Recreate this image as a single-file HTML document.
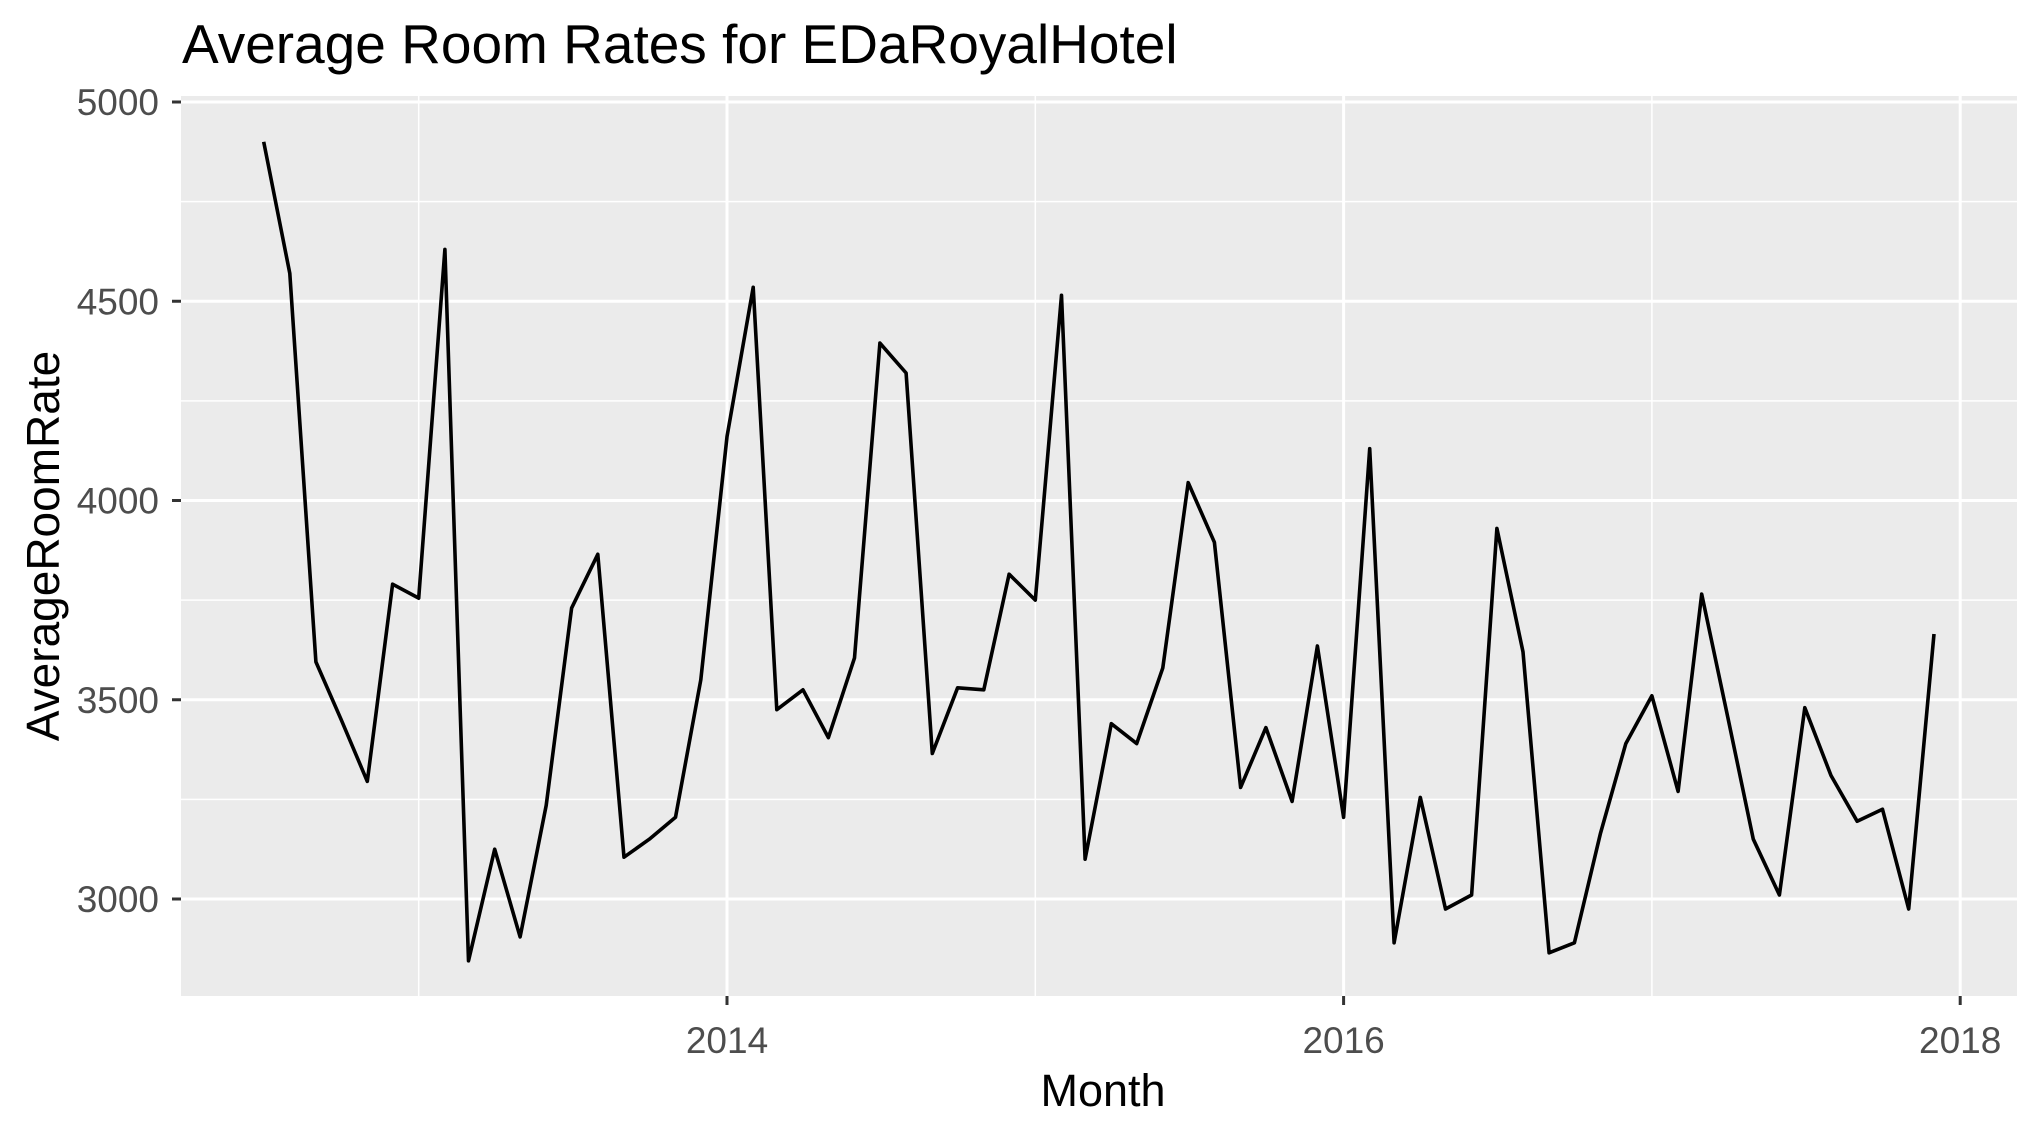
<!DOCTYPE html>
<html><head><meta charset="utf-8"><style>
html,body{margin:0;padding:0;background:#fff;}
svg{display:block;font-family:"Liberation Sans",Arial,sans-serif;}
</style></head><body>
<svg id="chart" width="2040" height="1134" viewBox="0 0 2040 1134" xmlns="http://www.w3.org/2000/svg">
<text x="182" y="63" font-size="55" fill="#000">Average Room Rates for EDaRoyalHotel</text>
<rect x="181" y="96" width="1836" height="900" fill="#ebebeb"/>
<g id="grid"></g>
<g id="series"></g>
<g id="axes"></g>
<text x="1103" y="1106" font-size="45" text-anchor="middle" fill="#000">Month</text>
<text transform="translate(59,546) rotate(-90)" font-size="46" text-anchor="middle" fill="#000">AverageRoomRate</text>
</svg>
<script>
const startYear = 2012, startMonth = 7;
const rates = [4900,4570,3595,3450,3295,3790,3755,4630,2845,3125,2905,3235,3730,3865,3105,3150,3205,3550,4160,4535,3475,3525,3405,3605,4395,4320,3365,3530,3525,3815,3750,4515,3100,3440,3390,3580,4045,3895,3280,3430,3245,3635,3205,4130,2890,3255,2975,3010,3930,3620,2865,2890,3165,3390,3510,3270,3765,3455,3150,3010,3480,3310,3195,3225,2975,3665];
const yTicks = [3000,3500,4000,4500,5000];
const yMinor = [3250,3750,4250,4750];
const xTicks = [2014,2016,2018];
const xMinor = [2013,2015,2017];

const NS="http://www.w3.org/2000/svg";
const PL=181,PR=2017,PT=96,PB=996;
function yS(v){return 102+(5000-v)*0.3985;}
function xS(yearFrac){return 727+(yearFrac-2014)*308.3;}
function dateFrac(y,m){const d0=Date.UTC(y,0,1),d1=Date.UTC(y+1,0,1),d=Date.UTC(y,m-1,1);return y+(d-d0)/(d1-d0);}
function mk(tag,attrs,parent){const e=document.createElementNS(NS,tag);for(const k in attrs)e.setAttribute(k,attrs[k]);parent.appendChild(e);return e;}
const grid=document.getElementById('grid'),axes=document.getElementById('axes'),series=document.getElementById('series');
yMinor.forEach(v=>{const l=mk('line',{x1:PL,x2:PR,y1:yS(v),y2:yS(v),stroke:'#fff','stroke-width':1.5},grid);

});
xMinor.forEach(v=>{const l=mk('line',{x1:xS(v),x2:xS(v),y1:PT,y2:PB,stroke:'#fff','stroke-width':1.5},grid);

});
yTicks.forEach(v=>{const y=yS(v);
const l=mk('line',{x1:PL,x2:PR,y1:y,y2:y,stroke:'#fff','stroke-width':3},grid);


const t=mk('line',{x1:172,x2:PL,y1:y,y2:y,stroke:'#333','stroke-width':3},axes);


const tx=mk('text',{x:159,y:y+13,'font-size':37,'text-anchor':'end',fill:'#4d4d4d'},axes);tx.textContent=v;

});
xTicks.forEach(v=>{const x=xS(v);
const l=mk('line',{x1:x,x2:x,y1:PT,y2:PB,stroke:'#fff','stroke-width':3},grid);


const t=mk('line',{x1:x,x2:x,y1:PB,y2:PB+9,stroke:'#333','stroke-width':3},axes);


const tx=mk('text',{x:x,y:1053,'font-size':37,'text-anchor':'middle',fill:'#4d4d4d'},axes);tx.textContent=v;

});
const pts=rates.map((v,i)=>{const m0=startMonth-1+i;const y=startYear+Math.floor(m0/12),m=m0%12+1;return xS(dateFrac(y,m)).toFixed(1)+','+yS(v).toFixed(1);});
const pl=mk('polyline',{points:pts.join(' '),fill:'none',stroke:'#000','stroke-width':3.6,'stroke-linejoin':'round'},series);


</script>
</body></html>
